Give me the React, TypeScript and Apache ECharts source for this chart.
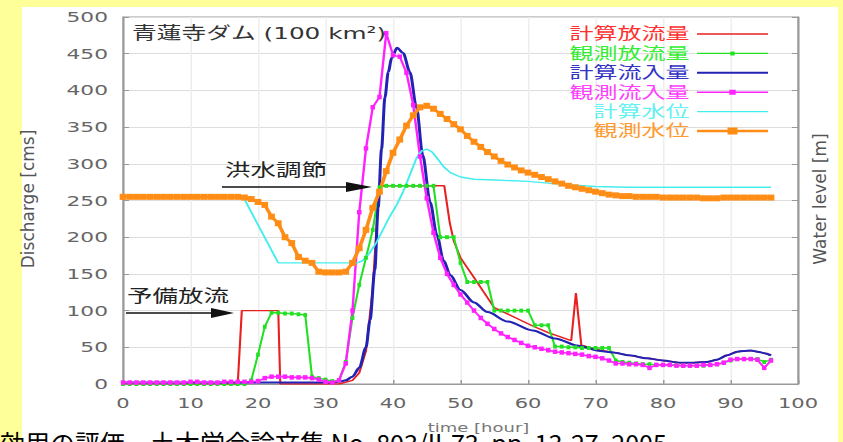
import React, { useEffect, useRef } from "react";
import * as echarts from "echarts";

// The reference picture is stretched horizontally; the chart is drawn narrower and widened by CSS.
const S = 1.5;
const W = 843 / S;
const H = 442;

const seriesNames = ["計算放流量", "観測放流量", "計算流入量", "観測流入量", "計算水位", "観測水位"];
const lineColors = ["#e82020", "#22e022", "#2222b4", "#ff22ff", "#44eeee", "#ff8c14"];
const legendTextColors = ["#ff3030", "#33ee33", "#3333c4", "#ff40ff", "#66f0f0", "#ff9a30"];

const xTicks = { min: 0, max: 100, interval: 10 };
const yTicks = { min: 0, max: 500, interval: 50 };

// hourly observations, t = 0..96
const hours = Array.from({ length: 97 }, (_, i) => i);

const obsOutflow = [
  0, 0, 0, 0, 0, 0, 0, 0, 0, 0, 0, 0, 0, 0, 0, 0, 0, 0, 0,
  5, 40, 78, 97, 97, 96, 96, 95, 94,
  10, 8, 6, 4, 5, 30, 90, 135, 172, 210,
  268, 270, 270, 270, 270, 270, 270, 270, 270,
  200, 200, 200, 165,
  139, 139, 139, 139,
  100, 100, 100, 100, 100, 100,
  80, 80, 80,
  51, 51, 50, 50, 49, 49, 49, 49, 49,
  32,
  30, 29, 28, 27, 27, 26, 26, 26, 26, 25, 25, 25, 25, 26, 27, 29, 32, 34, 34, 34, 34, 30, 33,
];

const obsInflow = [
  2, 2, 2, 2, 2, 2, 2, 2, 2, 2, 3, 3, 2, 2, 2, 3, 3, 3, 3, 3,
  4, 8, 10, 10, 10, 9, 9, 9, 8, 6, 3, 2, 5,
  28, 100, 234, 321, 377, 391, 478, 448, 446, 424, 380, 310, 253,
  206, 172, 150, 135, 122, 111, 100, 90, 82, 75, 69, 64, 60, 56, 52,
  50, 48, 46, 44, 43, 42, 41, 40, 38, 37, 35, 32,
  28, 28, 27, 27, 26, 22, 26, 26, 26, 25, 25, 25, 25, 26, 26, 27, 29, 33, 34, 34, 34, 33, 22, 32,
];

const obsLevel = [
  255, 255, 255, 255, 255, 255, 255, 255, 255, 255, 255, 255, 255, 255, 255, 255, 255, 255,
  254, 252, 248, 244, 228, 219, 200, 192, 173, 168, 165,
  153, 152, 152, 152, 153,
  165, 185, 210, 240, 262, 290, 315, 333, 352, 366, 377, 379,
  375, 368, 361, 354, 347, 338, 330, 323, 316, 310, 304, 299, 295, 291, 288,
  285, 282, 279, 276, 273, 270, 268, 266, 264, 262, 260, 258, 257, 256, 256,
  255, 255, 255, 255, 254, 254, 254, 254, 254, 254, 253, 253, 253, 254, 254, 254, 254, 254, 254, 254, 254,
];

// computed series as [hour, value]
const calcOutflow: [number, number][] = [
  [0, 0], [17, 0], [17.6, 100], [23, 100], [23.3, 0], [32, 0], [34, 5], [35, 15], [36, 45],
  [37, 130], [37.6, 220], [38, 270], [47.6, 270], [48.4, 220], [49, 195], [50, 172], [52, 145],
  [55, 104], [58, 91], [60.7, 79], [63, 70], [66.4, 59], [67.1, 124], [67.9, 53], [70.7, 46],
  [72.6, 43], [75, 39], [77.6, 35], [80, 32], [82.5, 29], [84.5, 29], [86.5, 30], [88, 33],
  [89.5, 39], [91, 44], [92, 45], [93, 45.5], [94, 44], [95, 42], [96, 39],
];

const calcInflow: [number, number][] = [
  [0, 2], [30, 2], [32, 3], [33, 5], [34, 10], [35, 22], [36, 50], [36.6, 87], [37.3, 155],
  [37.8, 240], [38.3, 320], [38.8, 390], [39.3, 425], [39.8, 444], [40.6, 458], [41.5, 451],
  [42.5, 425], [43.5, 376], [44.4, 312], [45.5, 248], [46.5, 203], [47.5, 168], [48.5, 148],
  [50, 128], [52, 111], [54, 98], [57, 85], [60.7, 73], [64, 62], [67.5, 52], [70.7, 45],
  [72.6, 43], [75, 39], [77.6, 35], [80, 32], [82.5, 29], [84.5, 29], [86.5, 30], [88, 33],
  [89.5, 39], [91, 44], [92, 45], [93, 45.5], [94, 44], [95, 42], [96, 39],
];

const calcLevel: [number, number][] = [
  [0, 255], [17.8, 255], [23, 165], [34.7, 165], [35.5, 168], [36.5, 178], [37.5, 192],
  [38.5, 210], [39.5, 228], [40.6, 245], [41.5, 262], [42.5, 285], [43.5, 308], [44.3, 318],
  [45, 320], [45.8, 316], [46.5, 308], [47.5, 296], [48.5, 288], [50, 282], [52, 279],
  [55, 278], [60, 276], [65, 272], [70, 269], [75, 268], [96, 268],
];

const titleText = "青蓮寺ダム (100 km²)";
const noteFlood = "洪水調節";
const notePre = "予備放流";
const yName = "Discharge [cms]";
const y2Name = "Water level [m]";
const xName = "time [hour]";
const citation = "効用の評価　土木学会論文集 No. 803/II-73, pp. 13-27, 2005";

const LATIN = "DejaVu Sans";
const MIXED = "DejaVu Sans, Noto Sans CJK JP";

// legend icons: a thin line across the box, with a small marker for the observed series
const ANCHORS = "M50,0L50.01,0L50,0.01Z M50,12L50.01,12L50,11.99Z ";
const iconLine = (half: number) => `path://${ANCHORS}M0,${6 - half}H100V${6 + half}H0Z`;
const iconMarker = (half: number, mw: number, mh: number) =>
  `path://${ANCHORS}M0,${6 - half}H${50 - mw}V${6 - mh}H${50 + mw}V${6 - half}H100V${6 + half}H${50 + mw}V${6 + mh}H${50 - mw}V${6 + half}H0Z`;
const legendIcons = [
  iconLine(0.7),
  iconMarker(0.7, 3, 2),
  iconLine(1),
  iconMarker(0.8, 4.5, 2.5),
  iconLine(0.7),
  iconMarker(1.2, 7, 3.5),
];

function sx(px: number) {
  return px / S;
}

export default function App() {
  const ref = useRef<HTMLDivElement>(null);

  useEffect(() => {
    if (!ref.current) return;
    const chart = echarts.init(ref.current, undefined, { renderer: "svg", width: W, height: H });

    const obs = (vals: number[]) => hours.map((h, i) => [h, vals[i]]);

    const option: any = {
      animation: false,
      backgroundColor: "transparent",
      grid: {
        left: sx(123),
        right: W - sx(798),
        top: 17,
        bottom: H - 384,
        show: true,
        borderColor: "#999",
        borderWidth: 1,
      },
      xAxis: {
        type: "value",
        ...xTicks,
        name: xName,
        nameLocation: "middle",
        nameGap: 38,
        nameTextStyle: { fontFamily: LATIN, fontSize: 12, color: "#777", padding: [0, 0, 0, 24] },
        axisLine: { show: true, lineStyle: { color: "#999" } },
        axisTick: { show: true, inside: true, length: 4, lineStyle: { color: "#999" } },
        axisLabel: { fontFamily: LATIN, fontSize: 14, color: "#666", margin: 12 },
        splitLine: { show: true, lineStyle: { color: "#eeeeee", width: 1 } },
      },
      yAxis: [
        {
          type: "value",
          ...yTicks,
          axisLine: { show: true, lineStyle: { color: "#999" } },
          axisTick: { show: true, inside: true, length: 4, lineStyle: { color: "#999" } },
          axisLabel: { fontFamily: LATIN, fontSize: 14.5, color: "#666", margin: 10 },
          splitLine: { show: true, lineStyle: { color: "#dddddd", width: 1 } },
        },
        {
          type: "value",
          position: "right",
          ...yTicks,
          axisLine: { show: true, lineStyle: { color: "#999" } },
          axisTick: { show: true, inside: true, length: 4, lineStyle: { color: "#999" } },
          axisLabel: { show: false },
          splitLine: { show: false },
        },
      ],
      legend: {
        orient: "vertical",
        align: "right",
        right: W - sx(768),
        top: 26,
        padding: 0,
        itemWidth: sx(768) - sx(697),
        itemHeight: 12,
        itemGap: 3.4,
        symbolKeepAspect: false,
        selectedMode: false,
        textStyle: { fontFamily: MIXED, fontSize: 16 },
        data: seriesNames.map((n, i) => ({
          name: n,
          icon: legendIcons[i],
          itemStyle: { color: lineColors[i], borderWidth: 0 },
          textStyle: { color: legendTextColors[i] },
        })),
      },
      series: [
        {
          name: seriesNames[0],
          type: "line",
          data: calcOutflow,
          symbol: "none",
          lineStyle: { color: lineColors[0], width: 1.4 },
          itemStyle: { color: lineColors[0] },
        },
        {
          name: seriesNames[1],
          type: "line",
          data: obs(obsOutflow),
          symbol: "rect",
          symbolSize: [2.5, 4],
          lineStyle: { color: lineColors[1], width: 1.4 },
          itemStyle: { color: lineColors[1] },
        },
        {
          name: seriesNames[2],
          type: "line",
          data: calcInflow,
          symbol: "none",
          smooth: 0.3,
          smoothMonotone: "x",
          lineStyle: { color: lineColors[2], width: 2 },
          itemStyle: { color: lineColors[2] },
        },
        {
          name: seriesNames[3],
          type: "line",
          data: obs(obsInflow),
          symbol: "rect",
          symbolSize: [3, 4.5],
          lineStyle: { color: lineColors[3], width: 1.6 },
          itemStyle: { color: lineColors[3] },
        },
        {
          name: seriesNames[4],
          type: "line",
          data: calcLevel,
          symbol: "none",
          lineStyle: { color: lineColors[4], width: 1.4 },
          itemStyle: { color: lineColors[4] },
        },
        {
          name: seriesNames[5],
          type: "line",
          data: obs(obsLevel),
          symbol: "rect",
          symbolSize: [4.5, 6],
          lineStyle: { color: lineColors[5], width: 2.5 },
          itemStyle: { color: lineColors[5] },
        },
      ].map((s) => ({ ...s, silent: true, emphasis: { disabled: true } })),
      graphic: {
        elements: [
          {
            type: "text",
            x: sx(132),
            y: 33,
            z: 100,
            style: { text: titleText, fontFamily: MIXED, fontSize: 16.5, fill: "#333", align: "left", verticalAlign: "middle" },
          },
          {
            type: "text",
            x: sx(225),
            y: 170,
            z: 100,
            style: { text: noteFlood, fontFamily: MIXED, fontSize: 17, fill: "#222", align: "left", verticalAlign: "middle" },
          },
          {
            type: "line",
            z: 100,
            shape: { x1: sx(222), y1: 187, x2: sx(350), y2: 187 },
            style: { stroke: "#111", lineWidth: 1.5 },
          },
          {
            type: "polygon",
            z: 100,
            shape: { points: [[sx(346), 182], [sx(372), 187], [sx(346), 192]] },
            style: { fill: "#111" },
          },
          {
            type: "text",
            x: sx(127),
            y: 296,
            z: 100,
            style: { text: notePre, fontFamily: MIXED, fontSize: 17, fill: "#222", align: "left", verticalAlign: "middle" },
          },
          {
            type: "line",
            z: 100,
            shape: { x1: sx(126), y1: 313, x2: sx(215), y2: 313 },
            style: { stroke: "#111", lineWidth: 1.5 },
          },
          {
            type: "polygon",
            z: 100,
            shape: { points: [[sx(211), 308], [sx(234), 313], [sx(211), 318]] },
            style: { fill: "#111" },
          },
          {
            type: "text",
            x: sx(28),
            y: 199,
            rotation: Math.PI / 2,
            scaleY: 1 / S,
            z: 100,
            style: { text: yName, fontFamily: LATIN, fontSize: 17, fill: "#555", align: "center", verticalAlign: "middle" },
          },
          {
            type: "text",
            x: sx(820),
            y: 199,
            rotation: Math.PI / 2,
            scaleY: 1 / S,
            z: 100,
            style: { text: y2Name, fontFamily: LATIN, fontSize: 17, fill: "#555", align: "center", verticalAlign: "middle" },
          },
          {
            type: "text",
            x: 0,
            y: 429,
            scaleX: 1 / S,
            z: 100,
            style: { text: citation, fontFamily: "Noto Sans CJK JP", fontSize: 25, fill: "#000", align: "left", verticalAlign: "top" },
          },
        ],
      },
    };

    chart.setOption(option);
    return () => chart.dispose();
  }, []);

  return (
    <div
      style={{
        position: "absolute",
        left: 0,
        top: 0,
        width: 843,
        height: 442,
        overflow: "hidden",
        background: "#ffff99",
      }}
    >
      <div style={{ position: "absolute", left: 22, top: 7, width: 816, height: 435, background: "#ffffff" }} />
      <div
        ref={ref}
        style={{
          position: "absolute",
          left: 0,
          top: 0,
          width: W,
          height: H,
          transform: `scaleX(${S})`,
          transformOrigin: "0 0",
        }}
      />
    </div>
  );
}
